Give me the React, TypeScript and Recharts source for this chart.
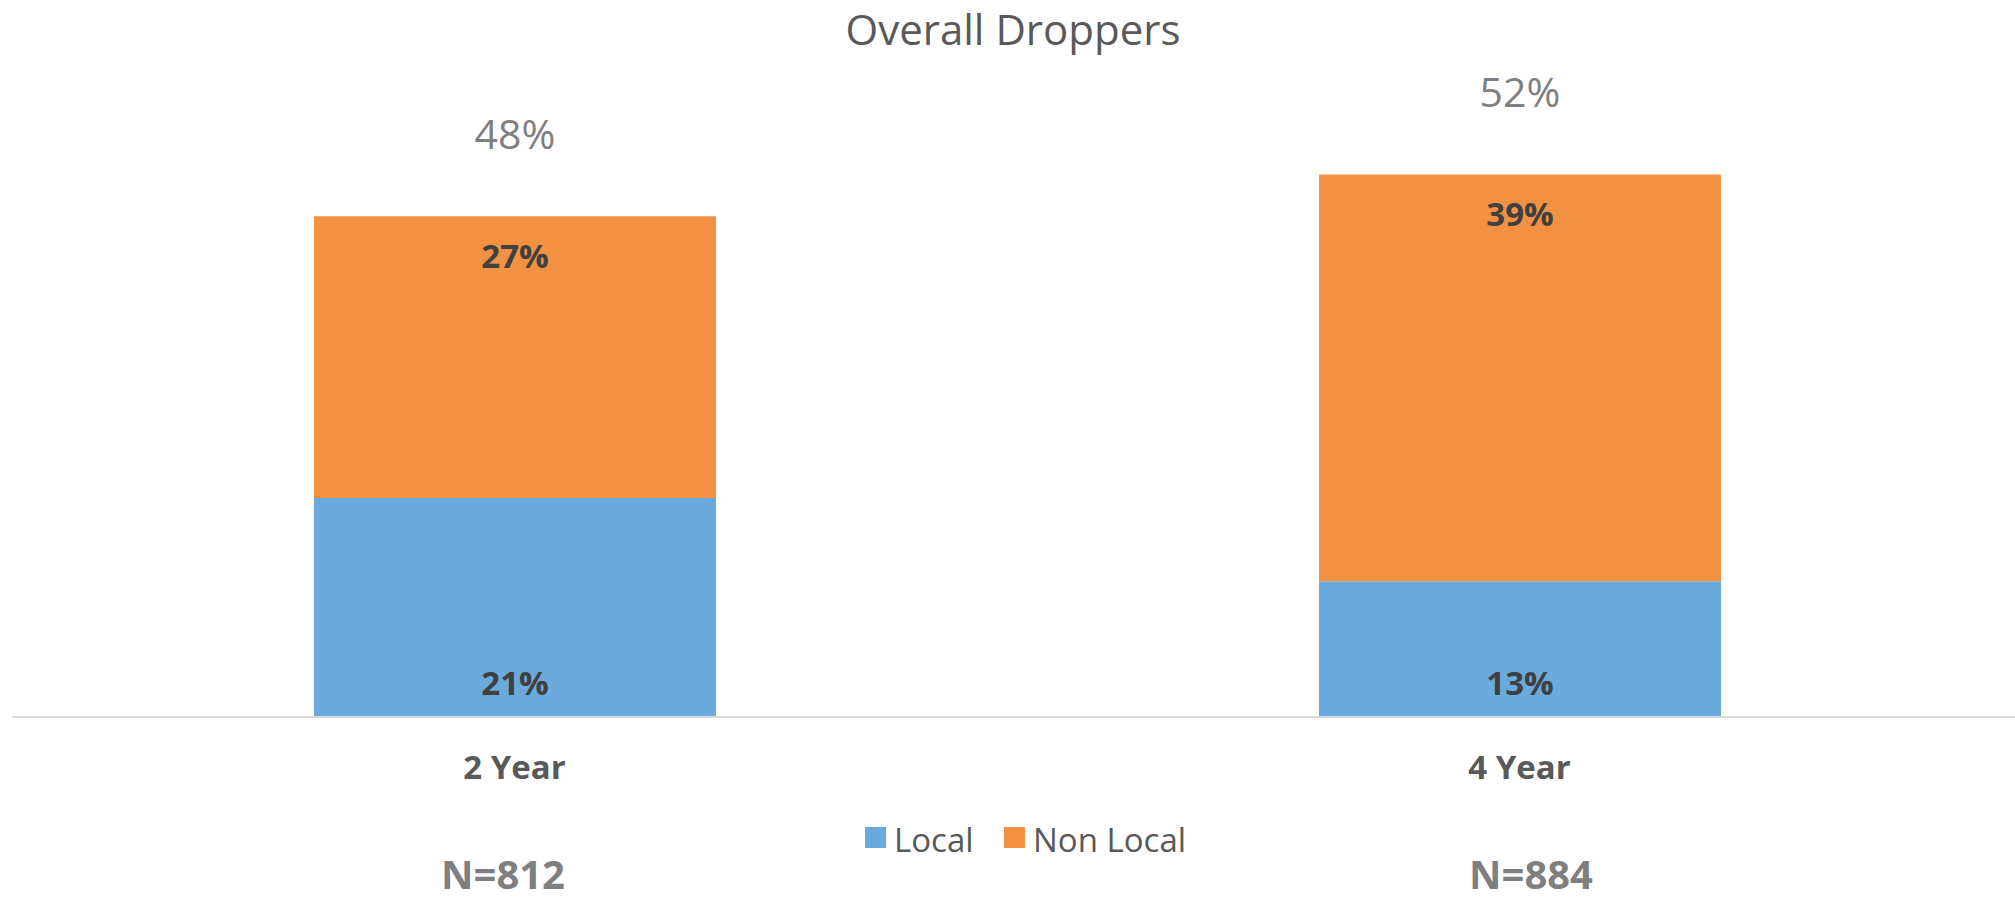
import React from 'react';
import { BarChart, Bar, XAxis, YAxis, Legend, LabelList } from 'recharts';

const CATEGORIES = ['2 Year', '4 Year'];
const LOCAL = [21, 13];
const NON_LOCAL = [27, 39];
const TOTALS = [48, 52];
const SAMPLE_SIZES = ['N=812', 'N=884'];
const SERIES_NAMES = ['Local', 'Non Local'];

const BLUE = '#6aaadc';
const ORANGE = '#f19141';
const FONT = '"Open Sans", sans-serif';

const data = CATEGORIES.map((name, i) => ({
  name,
  local: LOCAL[i],
  nonLocal: NON_LOCAL[i],
  total: TOTALS[i],
}));

function TopLabel(p: any) {
  const x = Number(p.x), y = Number(p.y), w = Number(p.width);
  return (
    <text x={x + w / 2} y={y + 52} textAnchor="middle" fontFamily={FONT} fontWeight={700} fontSize={33} fill="#404040">
      {`${p.value}%`}
    </text>
  );
}

function BottomLabel(p: any) {
  const x = Number(p.x), y = Number(p.y), w = Number(p.width), h = Number(p.height);
  return (
    <text x={x + w / 2} y={y + h - 22} textAnchor="middle" fontFamily={FONT} fontWeight={700} fontSize={33} fill="#404040">
      {`${p.value}%`}
    </text>
  );
}

function TotalLabel(p: any) {
  const x = Number(p.x), y = Number(p.y), w = Number(p.width);
  return (
    <text x={x + w / 2} y={y - 67} textAnchor="middle" fontFamily={FONT} fontSize={41} fill="#7f7f7f">
      {`${p.value}%`}
    </text>
  );
}

function CategoryTick(p: any) {
  return (
    <text x={p.x} y={p.y + 62} textAnchor="middle" fontFamily={FONT} fontWeight={700} fontSize={33} fill="#595959">
      {p.payload.value}
    </text>
  );
}

// legend drawn as its own small svg, placed under the axis labels
function LegendBox() {
  const colors = [BLUE, ORANGE];
  const xs = [0, 139];
  return (
    <svg width={400} height={70}>
      {SERIES_NAMES.map((n, i) => (
        <g key={n}>
          <rect x={xs[i]} y={15} width={21} height={21} fill={colors[i]} />
          <text x={xs[i] + 29} y={40} fontFamily={FONT} fontSize={33} fill="#595959">{n}</text>
        </g>
      ))}
    </svg>
  );
}

export default function App() {
  return (
    <div style={{ position: 'absolute', left: 0, top: 0, width: 2015, height: 901, overflow: 'hidden', background: '#fff' }}>
      <BarChart width={2030} height={901} data={data} margin={{ top: 91, right: 8, bottom: 124, left: 12 }}>
        <XAxis
          dataKey="name"
          height={60}
          tickSize={0}
          tickMargin={0}
          tickLine={false}
          axisLine={{ stroke: '#d9d9d9', strokeWidth: 2 }}
          tick={<CategoryTick />}
        />
        <YAxis hide domain={[0, 60]} />
        <Legend
          verticalAlign="middle"
          align="center"
          content={() => <LegendBox />}
          wrapperStyle={{ left: 865, top: 812, width: 400, height: 70 }}
        />
        <Bar dataKey="local" name={SERIES_NAMES[0]} stackId="a" fill={BLUE} barSize={402} isAnimationActive={false}>
          <LabelList dataKey="local" content={(p: any) => <BottomLabel {...p} />} />
        </Bar>
        <Bar dataKey="nonLocal" name={SERIES_NAMES[1]} stackId="a" fill={ORANGE} barSize={402} isAnimationActive={false}>
          <LabelList dataKey="nonLocal" content={(p: any) => <TopLabel {...p} />} />
          <LabelList dataKey="total" content={(p: any) => <TotalLabel {...p} />} />
        </Bar>
      </BarChart>
      <svg width={2015} height={901} style={{ position: 'absolute', left: 0, top: 0, pointerEvents: 'none' }}>
        <text x={1013} y={45} textAnchor="middle" fontFamily={FONT} fontSize={42} fill="#595959">Overall Droppers</text>
        <text x={503} y={889} textAnchor="middle" fontFamily={FONT} fontWeight={700} fontSize={40} fill="#7f7f7f">{SAMPLE_SIZES[0]}</text>
        <text x={1531} y={889} textAnchor="middle" fontFamily={FONT} fontWeight={700} fontSize={40} fill="#7f7f7f">{SAMPLE_SIZES[1]}</text>
      </svg>
    </div>
  );
}
